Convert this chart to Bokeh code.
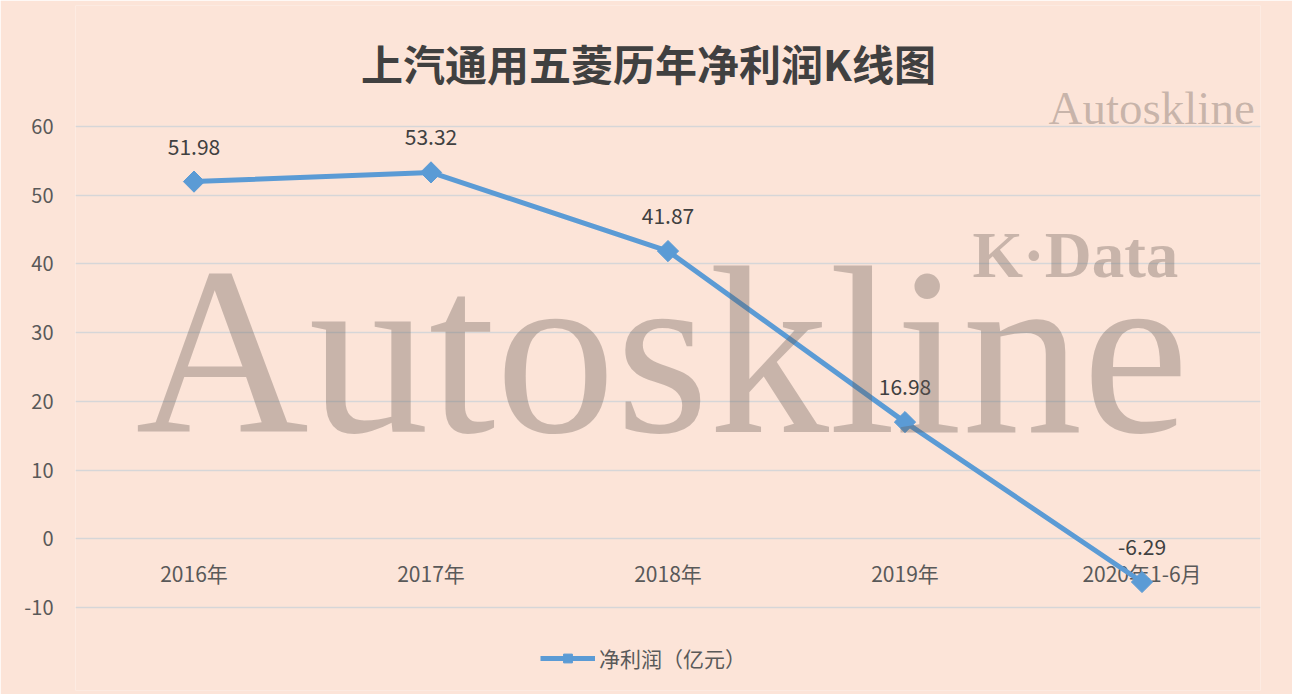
import math
from bokeh.plotting import figure
from bokeh.models import Label, Legend, LegendItem, FixedTicker, ColumnDataSource
from bokeh.core.properties import value
from bokeh.embed import file_html
from bokeh.resources import INLINE

categories = ["2016年", "2017年", "2018年", "2019年", "2020年1-6月"]
profit = [51.98, 53.32, 41.87, 16.98, -6.29]
value_labels = ["51.98", "53.32", "41.87", "16.98", "-6.29"]
y_ticks = [-10, 0, 10, 20, 30, 40, 50, 60]
title_text = "上汽通用五菱历年净利润K线图"
series_name = "净利润（亿元）"
watermark_big = "Autoskline"
watermark_small = "Autoskline"
watermark_kdata = "K·Data"

BG = "#fce4d8"
LINE = "#5b9bd5"
TXT = "#595959"
CJK = "Noto Sans CJK SC"

# layout in page pixels
W, H = 1292, 694
PLOT_L, PLOT_R = 75, 1260          # horizontal extent of the category band
Y_TOP_PX, Y_BOT_PX = 126, 607      # pixel rows of the 60 and -10 gridlines
FRAME_T, FRAME_B = 5, 690          # frame spans almost the whole figure
ML, MR, MT, MB = PLOT_L, W - PLOT_R, FRAME_T, H - FRAME_B
k = (Y_BOT_PX - Y_TOP_PX) / (y_ticks[-1] - y_ticks[0])
y_lo = y_ticks[0] - (FRAME_B - Y_BOT_PX) / k
y_hi = y_ticks[-1] + (Y_TOP_PX - FRAME_T) / k

p = figure(x_range=categories, y_range=(y_lo, y_hi), width=W, height=H,
           output_backend="svg", toolbar_location=None,
           min_border_left=ML, min_border_right=MR, min_border_top=MT, min_border_bottom=MB,
           background_fill_color=BG, border_fill_color=BG, outline_line_color=None)
p.x_range.range_padding = 0

p.xaxis.visible = False
p.xgrid.grid_line_color = None
p.ygrid.grid_line_color = "#d6d6d8"
p.ygrid.grid_line_width = 1.5
p.yaxis.ticker = FixedTicker(ticks=y_ticks)
p.yaxis.major_label_overrides = {t: str(t) for t in y_ticks}
p.yaxis.axis_line_color = None
p.yaxis.major_tick_line_color = None
p.yaxis.minor_tick_line_color = None
p.yaxis.major_tick_out = 0
p.yaxis.major_label_standoff = 22
p.yaxis.major_label_text_font = CJK
p.yaxis.major_label_text_font_size = "20px"
p.yaxis.major_label_text_color = TXT

src = ColumnDataSource(dict(cat=categories, val=profit, lab=value_labels, zero=[0] * len(categories)))

# category labels sitting under the zero line
p.text(x="cat", y="zero", text="cat", source=src, y_offset=34,
       text_align="center", text_baseline="middle",
       text_font=value(CJK), text_font_size="21px", text_color=TXT)

ln = p.line(x="cat", y="val", source=src, line_width=5, line_color=LINE)
sc = p.scatter(x="cat", y="val", source=src, marker="square", angle=math.pi / 4, size=15,
               fill_color=LINE, line_color=LINE)

p.text(x="cat", y="val", text="lab", source=src, y_offset=-35,
       text_align="center", text_baseline="middle",
       text_font=value(CJK), text_font_size="21px", text_color="#404040")

legend = Legend(items=[LegendItem(label=series_name, renderers=[ln, sc])],
                orientation="horizontal", location=(540 - ML, FRAME_B - 673),
                background_fill_alpha=0, border_line_color=None,
                label_text_font=CJK, label_text_font_size="21px", label_text_color=TXT,
                glyph_width=55, glyph_height=22, margin=0, padding=0, label_standoff=4)
p.add_layout(legend, "center")


def page_label(text, x, y, fs, baseline_shift=0.0, **kw):
    # x, y in page pixels from the top-left; converted to frame-relative screen units
    return Label(text=text, x=x - ML, y=FRAME_B - (y - baseline_shift * fs),
                 x_units="screen", y_units="screen", text_font_size=f"{fs}px", **kw)


wm_color = "#675b55"
p.add_layout(page_label(watermark_big, 135, 432, 240, 0.34, text_font="Liberation Serif",
                        text_color=wm_color, text_alpha=0.35, text_baseline="alphabetic"))
p.add_layout(page_label(watermark_kdata, 972, 277, 65, 0.34, text_font="Liberation Serif",
                        text_font_style="bold", text_color=wm_color, text_alpha=0.35,
                        text_baseline="alphabetic"))
p.add_layout(page_label(watermark_small, 1048, 123, 47, 0.34, text_font="Liberation Serif",
                        text_color=wm_color, text_alpha=0.35, text_baseline="alphabetic"))
p.add_layout(page_label(title_text, 648, 62, 42, 0.0, text_font=CJK, text_font_style="bold",
                        text_color="#404040", text_align="center", text_baseline="middle"))

open("out.html", "w").write(file_html(p, INLINE))
